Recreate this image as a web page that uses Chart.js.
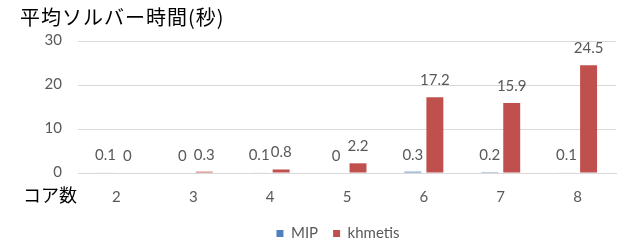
<!DOCTYPE html>
<html><head><meta charset="utf-8">
<script src="https://cdn.jsdelivr.net/npm/chart.js@4.4.1/dist/chart.umd.min.js"></script>
<style>html,body{margin:0;padding:0;background:#fff}#wrap{width:621px;height:246px}</style>
</head><body><div id="wrap"><canvas id="c" width="621" height="246"></canvas></div>
<script>
const categories = ['2','3','4','5','6','7','8'];
const mipValues = [0.1, 0, 0.1, 0, 0.3, 0.2, 0.1];
const khmetisValues = [0, 0.3, 0.8, 2.2, 17.2, 15.9, 24.5];
const yTicks = [0, 10, 20, 30];
const chartTitle = '平均ソルバー時間(秒)';
const xTitle = 'コア数';
const FONT = 'Lato, "Open Sans", sans-serif';

const labelPlugin = {
  id: 'labels',
  afterLayout(chart) {
    const lg = chart.legend;
    if (lg) { lg.left += 60; lg.width = lg.right - lg.left; }
  },
  afterDatasetsDraw(chart) {
    const ctx = chart.ctx;
    ctx.save();
    ctx.font = '15px ' + FONT;
    ctx.fillStyle = '#595959';
    ctx.textAlign = 'center';
    ctx.textBaseline = 'middle';
    chart.data.datasets.forEach((ds, i) => {
      chart.getDatasetMeta(i).data.forEach((bar, j) => {
        ctx.fillText(String(ds.data[j]), bar.x, bar.y - 17);
      });
    });
    // title
    ctx.font = '20px "Noto Sans CJK JP", sans-serif';
    ctx.fillStyle = '#000';
    ctx.textAlign = 'left';
    try { ctx.letterSpacing = '1px'; } catch (e) {}
    ctx.fillText(chartTitle, 20, 17);
    try { ctx.letterSpacing = '0px'; } catch (e) {}
    // x axis title
    ctx.font = '18px "Noto Sans CJK JP", sans-serif';
    ctx.textAlign = 'right';
    const xs = chart.scales.x;
    ctx.fillText(xTitle, 77, xs.top + 22);
    ctx.restore();
  }
};

new Chart(document.getElementById('c'), {
  type: 'bar',
  data: {
    labels: categories,
    datasets: [
      { label: 'MIP', data: mipValues, backgroundColor: '#4f81bd', categoryPercentage: 0.573, barPercentage: 0.77 },
      { label: 'khmetis', data: khmetisValues, backgroundColor: '#c0504d', categoryPercentage: 0.573, barPercentage: 0.77 }
    ]
  },
  options: {
    responsive: false,
    animation: false,
    devicePixelRatio: 1,
    layout: { padding: { top: 41, right: 5, left: 0, bottom: -5 } },
    plugins: {
      legend: {
        position: 'bottom',
        labels: { boxWidth: 7, boxHeight: 7, color: '#595959', font: { size: 15, family: FONT }, padding: 15 }
      },
      tooltip: { enabled: false }
    },
    scales: {
      x: {
        afterFit(s) { s.height = 38; },
        grid: { display: false },
        border: { color: '#d9d9d9' },
        ticks: { color: '#595959', font: { size: 15, family: FONT }, padding: 7 }
      },
      y: {
        min: 0, max: 30,
        afterBuildTicks(s) { s.ticks = yTicks.map(v => ({ value: v })); },
        afterFit(s) { s.width = 78; },
        grid: { color: '#d9d9d9', tickColor: 'rgba(0,0,0,0)' },
        border: { display: false },
        ticks: { color: '#595959', font: { size: 15, family: FONT }, padding: 8, labelOffset: -1 }
      }
    }
  },
  plugins: [labelPlugin]
});
</script></body></html>
